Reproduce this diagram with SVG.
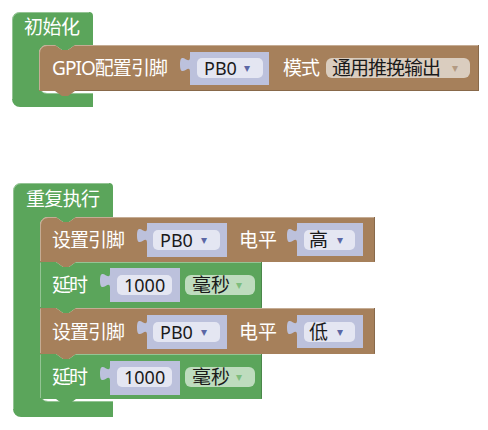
<svg xmlns="http://www.w3.org/2000/svg" width="488" height="430" viewBox="0 0 488 430">
<style>
.green{fill:#5ba55b}
.brown{fill:#a6805b}
.val{fill:#bcc1dc}
.hl{fill:none;stroke:#ffffff;stroke-opacity:0.35;stroke-width:1}
.dk{fill:none;stroke:#000000;stroke-opacity:0.18;stroke-width:1}
.fv{fill:#e4e6f2}
.fb{fill:#dacdbf}
.fg{fill:#bedcbe}
.lbl{font-family:'Noto Sans','Noto Sans CJK SC',sans-serif;font-size:19px;fill:#ffffff}
.txt{font-family:'Noto Sans','Noto Sans CJK SC',sans-serif;font-size:18px;fill:#1a1a1a}
.cj{font-size:19px}
.arr{font-family:'DejaVu Sans',sans-serif;font-size:12px}
.av{fill:#5b67a5}
.ab{fill:#b39a82}
.ag{fill:#7dbd7d}
</style>

<g id="init">
<path class="green" d="M12,20 A8,8 0 0 1 20,12 H89 A4,4 0 0 1 93,16 V45 H75 l-7,5 -6,0 -7,-5 H47 A8,8 0 0 0 39,53 V85 A8,8 0 0 0 47,93 H93 V107 H20 A8,8 0 0 1 12,99 Z"/>
<path class="hl" d="M12.5,99 V20 A7.5,7.5 0 0 1 20,12.5 H89"/>
<path class="hl" d="M39.5,86 A7.5,7.5 0 0 0 47,93.5 H93"/>
<text class="lbl" x="24" y="34" textLength="56">初始化</text>
</g>

<g id="gpio">
<path class="brown" d="M39,53 A8,8 0 0 1 47,45 H55 l7,5 6,0 7,-5 H479 V91 H75 l-7,5 -6,0 -7,-5 H39 Z"/>
<path class="hl" d="M39.5,90 V53 A7.5,7.5 0 0 1 47,45.5 H55 M75,45.5 H478"/>
<path class="dk" d="M478.5,45 V90.5 H75"/>
<text class="lbl" x="52" y="75" textLength="116">GPIO配置引脚</text>
<path class="val" d="M190,52 H269 V85 H190 V72 c0,-10 -10,8 -10,-7.5 s10,2.5 10,-7.5 Z"/>
<rect class="fv" x="197" y="58" width="66" height="20" rx="5"/>
<text class="txt" x="204" y="75">PB0</text>
<text class="arr av" x="244" y="72">▾</text>
<text class="lbl" x="283" y="75" textLength="37">模式</text>
<rect class="fb" x="326" y="58" width="144" height="20" rx="6"/>
<text class="txt cj" x="332" y="75" textLength="109">通用推挽输出</text>
<text class="arr ab" x="452" y="72">▾</text>
</g>

<g id="loop">
<path class="green" d="M13,191 A8,8 0 0 1 21,183 H109 A4,4 0 0 1 113,187 V217 H76 l-7,5 -6,0 -7,-5 H48 A8,8 0 0 0 40,225 V393 A8,8 0 0 0 48,401 H113 V417 H21 A8,8 0 0 1 13,409 Z"/>
<path class="hl" d="M13.5,409 V191 A7.5,7.5 0 0 1 21,183.5 H109"/>
<path class="hl" d="M40.5,394 A7.5,7.5 0 0 0 48,401.5 H113"/>
<text class="lbl" x="26" y="206" textLength="74">重复执行</text>
</g>

<g id="setpin1">
<path class="brown" d="M40,225 A8,8 0 0 1 48,217 H56 l7,5 6,0 7,-5 H375 V262 H76 l-7,5 -6,0 -7,-5 H40 Z"/>
<path class="hl" d="M40.5,261 V225 A7.5,7.5 0 0 1 48,217.5 H56 M76,217.5 H374"/>
<path class="dk" d="M374.5,217 V261.5"/>
<text class="lbl" x="52" y="247" textLength="73">设置引脚</text>
<path class="val" d="M147,223 H227 V257 H147 V243 c0,-10 -10,8 -10,-7.5 s10,2.5 10,-7.5 Z"/>
<rect class="fv" x="153" y="230" width="67" height="20" rx="5"/>
<text class="txt" x="160" y="247">PB0</text>
<text class="arr av" x="201" y="244">▾</text>
<text class="lbl" x="239" y="247" textLength="38">电平</text>
<path class="val" d="M297,223 H363 V256 H297 V243 c0,-10 -10,8 -10,-7.5 s10,2.5 10,-7.5 Z"/>
<rect class="fv" x="304" y="230" width="51" height="20" rx="5"/>
<text class="txt cj" x="309" y="247">高</text>
<text class="arr av" x="337" y="244">▾</text>
</g>

<g id="delay1">
<path class="green" d="M40,262 H56 l7,5 6,0 7,-5 H262 V308 H76 l-7,5 -6,0 -7,-5 H40 Z"/>
<path class="hl" d="M40.5,307 V262.5 M76,262.5 H261"/>
<path class="dk" d="M261.5,262 V307.5"/>
<text class="lbl" x="52" y="292" textLength="36">延时</text>
<path class="val" d="M110,268 H180 V302 H110 V288 c0,-10 -10,8 -10,-7.5 s10,2.5 10,-7.5 Z"/>
<rect class="fv" x="117" y="275" width="55" height="20" rx="5"/>
<text class="txt" x="124" y="292">1000</text>
<rect class="fg" x="185" y="275" width="70" height="20" rx="6"/>
<text class="txt cj" x="192" y="292" textLength="38">毫秒</text>
<text class="arr ag" x="236" y="289">▾</text>
</g>

<g id="setpin2">
<path class="brown" d="M40,308 H56 l7,5 6,0 7,-5 H375 V354 H76 l-7,5 -6,0 -7,-5 H40 Z"/>
<path class="hl" d="M40.5,353 V308.5 M76,308.5 H374"/>
<path class="dk" d="M374.5,308 V353.5"/>
<text class="lbl" x="52" y="339" textLength="73">设置引脚</text>
<path class="val" d="M147,315 H227 V349 H147 V335 c0,-10 -10,8 -10,-7.5 s10,2.5 10,-7.5 Z"/>
<rect class="fv" x="153" y="322" width="67" height="20" rx="5"/>
<text class="txt" x="160" y="339">PB0</text>
<text class="arr av" x="201" y="336">▾</text>
<text class="lbl" x="239" y="339" textLength="38">电平</text>
<path class="val" d="M297,315 H363 V348 H297 V335 c0,-10 -10,8 -10,-7.5 s10,2.5 10,-7.5 Z"/>
<rect class="fv" x="304" y="322" width="51" height="20" rx="5"/>
<text class="txt cj" x="309" y="339">低</text>
<text class="arr av" x="337" y="336">▾</text>
</g>

<g id="delay2">
<path class="green" d="M40,354 H56 l7,5 6,0 7,-5 H262 V399 H76 l-7,5 -6,0 -7,-5 H40 Z"/>
<path class="hl" d="M40.5,398 V354.5 M76,354.5 H261"/>
<path class="dk" d="M261.5,354 V398.5"/>
<text class="lbl" x="52" y="384" textLength="36">延时</text>
<path class="val" d="M110,361 H180 V395 H110 V381 c0,-10 -10,8 -10,-7.5 s10,2.5 10,-7.5 Z"/>
<rect class="fv" x="117" y="367" width="55" height="20" rx="5"/>
<text class="txt" x="124" y="384">1000</text>
<rect class="fg" x="185" y="367" width="70" height="20" rx="6"/>
<text class="txt cj" x="192" y="384" textLength="38">毫秒</text>
<text class="arr ag" x="236" y="381">▾</text>
</g>

<g id="connectors"></g>
</svg>
